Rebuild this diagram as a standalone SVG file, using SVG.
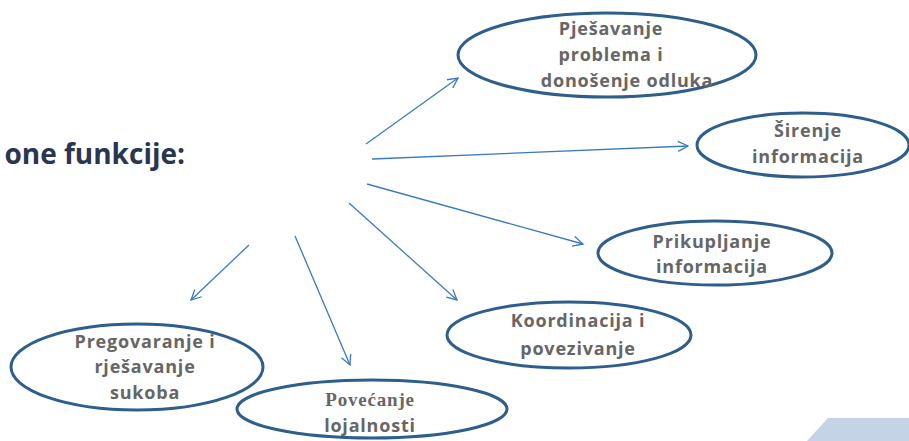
<svg xmlns="http://www.w3.org/2000/svg" width="909" height="441" viewBox="0 0 909 441">
<defs>
<style>
.node ellipse{fill:#fff;stroke:#2e5f8c;stroke-width:3}
.node text{font-family:"Open Sans","DejaVu Sans",sans-serif;font-weight:700;font-size:18px;fill:#666;text-anchor:middle;letter-spacing:0.8px}
.conn line{stroke:#3a7bbf;stroke-width:1.3;fill:none;marker-end:url(#arr)}
.title{font-family:"Open Sans","DejaVu Sans",sans-serif;font-weight:700;font-size:28px;fill:#2a3550}
</style>
<marker id="arr" viewBox="0 0 12 12" refX="11" refY="6" markerWidth="12" markerHeight="12" markerUnits="userSpaceOnUse" orient="auto">
<path d="M1,1 L11,6 L1,11" fill="none" stroke="#3a7bbf" stroke-width="1.3"/>
</marker>
</defs>
<rect width="909" height="441" fill="#fff"/>
<polygon points="828,418 909,418 909,441 807,441" fill="#c5d3e6"/>
<text class="title" x="185" y="164" text-anchor="end">one funkcije:</text>
<g class="conn" id="connectors">
<line x1="366" y1="144" x2="458" y2="78"/>
<line x1="372" y1="159" x2="688" y2="146"/>
<line x1="367" y1="184" x2="583" y2="244"/>
<line x1="349" y1="203" x2="457" y2="300"/>
<line x1="249" y1="245" x2="191" y2="300"/>
<line x1="295" y1="236" x2="350" y2="365"/>
</g>
<g class="node" id="n-pjesavanje">
<ellipse cx="607" cy="55" rx="149" ry="42"/>
<text x="611" y="35">Pješavanje</text>
<text x="611" y="61">problema i</text>
<text x="627" y="87">donošenje odluka</text>
</g>
<g class="node" id="n-sirenje">
<ellipse cx="803" cy="145" rx="106" ry="32"/>
<text x="808" y="137">Širenje</text>
<text x="808" y="163">informacija</text>
</g>
<g class="node" id="n-prikupljanje">
<ellipse cx="715" cy="253" rx="117" ry="32"/>
<text x="712" y="248">Prikupljanje</text>
<text x="712" y="273">informacija</text>
</g>
<g class="node" id="n-koordinacija">
<ellipse cx="569" cy="335" rx="122" ry="33"/>
<text x="578" y="327">Koordinacija i</text>
<text x="578" y="355">povezivanje</text>
</g>
<g class="node" id="n-pregovaranje">
<ellipse cx="137" cy="367" rx="126" ry="43"/>
<text x="145" y="348">Pregovaranje i</text>
<text x="145" y="373">rješavanje</text>
<text x="145" y="399">sukoba</text>
</g>
<g class="node" id="n-povecanje">
<ellipse cx="372" cy="409" rx="135" ry="29"/>
<text x="370" y="406" style="font-family:'Liberation Serif',serif;font-size:19px">Povećanje</text>
<text x="370" y="432">lojalnosti</text>
</g>
</svg>
